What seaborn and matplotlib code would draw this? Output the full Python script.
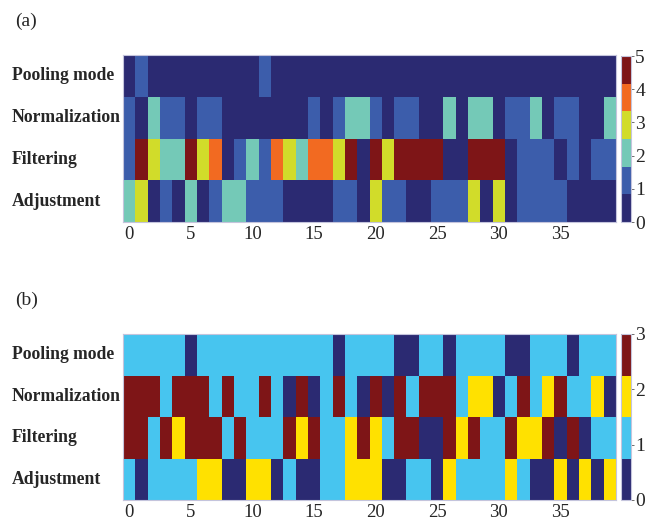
import numpy as np
import pandas as pd
import seaborn as sns
import matplotlib
matplotlib.use("Agg")
import matplotlib.pyplot as plt
from matplotlib.colors import ListedColormap

rows = ["Pooling mode", "Normalization", "Filtering", "Adjustment"]
n_cols = 40
xtick_vals = [0, 5, 10, 15, 20, 25, 30, 35]

# Panel (a): values 0..5
a_pooling = [0, 1, 0, 0, 0, 0, 0, 0, 0, 0, 0, 1, 0,
             0, 0, 0, 0, 0, 0, 0, 0, 0, 0, 0, 0, 0,
             0, 0, 0, 0, 0, 0, 0, 0, 0, 0, 0, 0, 0, 0]
a_normalization = [1, 0, 2, 1, 1, 0, 1, 1, 0, 0, 0, 0, 0,
                   0, 0, 1, 0, 1, 2, 2, 1, 0, 1, 1, 0, 0,
                   2, 0, 2, 2, 0, 1, 1, 2, 0, 1, 1, 0, 0, 2]
a_filtering = [1, 5, 3, 2, 2, 5, 3, 4, 0, 1, 2, 1, 4,
               3, 2, 4, 4, 3, 5, 0, 5, 3, 5, 5, 5, 5,
               0, 0, 5, 5, 5, 0, 1, 1, 1, 0, 1, 0, 1, 1]
a_adjustment = [2, 3, 0, 1, 0, 2, 0, 1, 2, 2, 1, 1, 1,
                0, 0, 0, 0, 1, 1, 0, 3, 1, 1, 0, 0, 1,
                1, 1, 3, 0, 3, 0, 1, 1, 1, 1, 0, 0, 0, 0]

# Panel (b): values 0..3
b_pooling = [1, 1, 1, 1, 1, 0, 1, 1, 1, 1, 1, 1, 1,
             1, 1, 1, 1, 0, 1, 1, 1, 1, 0, 0, 1, 1,
             0, 1, 1, 1, 1, 0, 0, 1, 1, 1, 0, 1, 1, 1]
b_normalization = [3, 3, 3, 1, 3, 3, 3, 1, 3, 1, 1, 3, 1,
                   0, 3, 0, 1, 3, 1, 0, 3, 0, 3, 1, 3, 3,
                   3, 1, 2, 2, 0, 1, 3, 1, 2, 3, 1, 1, 2, 0]
b_filtering = [3, 3, 1, 3, 2, 3, 3, 3, 1, 3, 1, 1, 1,
               3, 2, 3, 1, 1, 2, 3, 2, 1, 3, 3, 0, 0,
               3, 2, 3, 1, 1, 3, 2, 2, 3, 0, 3, 0, 1, 1]
b_adjustment = [1, 0, 1, 1, 1, 1, 2, 2, 0, 0, 2, 2, 0,
                1, 0, 0, 1, 1, 2, 2, 2, 0, 0, 1, 1, 0,
                2, 1, 1, 1, 1, 2, 1, 0, 0, 2, 0, 2, 0, 2]

colors_a = ["#2b2a72", "#3c5dab", "#74c9b7", "#d1dc2a", "#f26a21", "#7e1517"]
colors_b = ["#2b2a72", "#47c5ef", "#ffe100", "#7e1517"]

sns.set_theme(style="white")
plt.rcParams["font.family"] = ["Liberation Serif", "DejaVu Serif"]

fig = plt.figure(figsize=(6.55, 5.21), dpi=100)

W, H = 655.0, 521.0
def fr(x0, y0, x1, y1):
    return [x0 / W, 1 - y1 / H, (x1 - x0) / W, (y1 - y0) / H]

ax_a = fig.add_axes(fr(123, 55, 616, 222))
cax_a = fig.add_axes(fr(621, 56, 631, 222))
ax_b = fig.add_axes(fr(123, 334, 616, 500))
cax_b = fig.add_axes(fr(621, 334, 631, 500))

border = "#c4c4dc"

def draw(ax, cax, data_rows, colors, vmax, label):
    df = pd.DataFrame(data_rows, index=rows, columns=list(range(n_cols)))
    sns.heatmap(df, ax=ax, cbar_ax=cax, cmap=ListedColormap(colors),
                vmin=0, vmax=vmax, linewidths=0, square=False)
    ax.set_xticks([v + 0.5 for v in xtick_vals])
    ax.set_xticklabels([str(v) for v in xtick_vals], rotation=0, fontsize=13.5)
    ax.set_yticks([i + 0.5 for i in range(len(rows))])
    ax.set_yticklabels(rows, rotation=0, fontsize=12.7, fontweight="bold")
    for t in ax.get_yticklabels():
        t.set_horizontalalignment("left")
    ax.tick_params(axis="y", length=0, pad=(123 - 12) * 0.72)
    ax.tick_params(axis="x", length=0, pad=3)
    ax.set_xlabel("")
    ax.set_ylabel("")
    for s in ax.spines.values():
        s.set_visible(True)
        s.set_color(border)
        s.set_linewidth(0.8)
    cb = ax.collections[0].colorbar
    cb.set_ticks(list(range(vmax + 1)))
    cb.ax.tick_params(labelsize=14, length=2, width=0.6, color="#555555", pad=1)
    cb.outline.set_edgecolor(border)
    cb.outline.set_linewidth(0.8)
    cb.outline.set_visible(True)
    ax.text(-0.219, 1.20, label, transform=ax.transAxes, fontsize=14,
            ha="left", va="center")

draw(ax_a, cax_a, [a_pooling, a_normalization, a_filtering, a_adjustment],
     colors_a, 5, "(a)")
draw(ax_b, cax_b, [b_pooling, b_normalization, b_filtering, b_adjustment],
     colors_b, 3, "(b)")

fig.savefig("out.png", dpi=100)
